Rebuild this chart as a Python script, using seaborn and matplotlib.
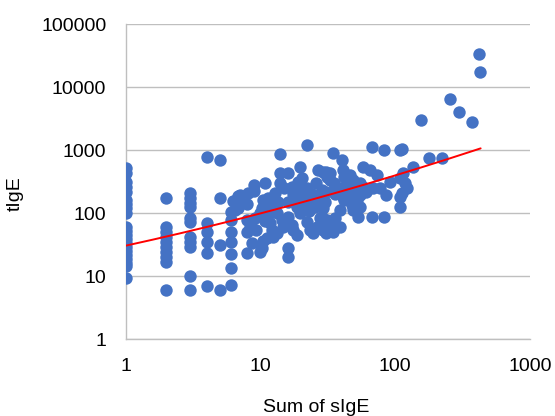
import numpy as np
import pandas as pd
import matplotlib
matplotlib.use("Agg")
import matplotlib.pyplot as plt
import seaborn as sns
from matplotlib.ticker import FixedLocator, FuncFormatter, NullLocator

# tIgE of patients whose sIgE sum is a small whole number
tige_sum1 = [520, 435, 313, 261, 218, 162, 140, 121, 101, 61, 52, 45, 39, 34,
             29, 25, 22, 19, 16.3, 14.6, 9.4]
tige_sum2 = [177, 61, 51, 42, 35, 29, 24, 20, 17, 6.1]
tige_sum3 = [210, 175, 146, 126, 84, 73, 42, 35, 29, 10, 6.1]
tige_sum4 = [789, 70, 51, 35, 23.5, 7.0]
tige_sum5 = [700, 175, 31, 6.1]
tige_sum6 = [106, 78, 51, 35.5, 23, 13.4, 7.3]

# remaining patients: sum of sIgE and tIgE
sige_rest = [6.8, 7.0, 8.1, 6.25, 7.0, 7.9, 6.8, 6.5, 7.9, 8.6, 8.4, 7.9, 9.3, 9.1,
             9.9, 10.3, 10.8, 10.4, 11.4, 8.9, 8.9, 10.8, 8.7, 10.3, 10.5, 7.9, 9.9,
             11.2, 11.8, 12.2, 12.4, 11.2, 13.2, 14.4, 14.7, 13.2, 12.8, 14.0, 16.0,
             14.0, 14.0, 17.1, 19.0, 19.6, 18.6, 19.6, 20.3, 16.0, 16.0, 17.1, 17.4,
             18.6, 18.6, 19.6, 16.0, 16.0, 22, 22, 23.3, 24.5, 26.2, 27.6, 29, 30.8,
             32.8, 24.1, 25.4, 27.6, 26.7, 30.8, 28.6, 30.8, 11.4, 12.8,
             34.5, 40, 67, 83, 108, 112, 135, 58, 65, 73, 29, 33, 31, 41, 42, 46, 49,
             114, 108, 91, 118, 122, 112, 108, 33, 35, 38, 28.6, 52, 58, 55, 61, 68,
             77, 86, 39, 41, 44, 46, 49, 52, 55, 108, 28.6, 30, 29, 39, 36, 39, 33,
             34.5, 48, 49, 55, 53, 67, 83, 31, 28.6, 29, 178, 222, 155, 255, 297,
             371, 418, 425,
             36, 44, 48, 42, 36, 26, 22, 24, 21, 13.5, 15, 17.5, 12, 20.5, 23]
tige_rest = [185, 195, 210, 155, 145, 140, 121, 113, 78, 78, 61, 50, 54, 84,
             101, 121, 75, 162, 175, 281, 226, 302, 34, 28, 36, 23.5, 24.4,
             88, 70, 54, 42, 41, 101, 78, 61, 48, 210, 435, 435,
             302, 871, 262, 313, 234, 181, 543, 363, 151, 88, 65, 54,
             45, 126, 101, 28, 20, 1210, 73, 54, 49, 61, 84, 54, 49,
             70, 151, 128, 162, 486, 451, 210, 218, 146, 107,
             903, 699, 1120, 1010, 1010, 1040, 543, 543, 486, 405, 451, 435, 377, 486, 377, 405, 337,
             435, 363, 313, 302, 252, 210, 181, 337, 302, 252, 234, 281, 262, 302, 218, 252,
             252, 195, 210, 181, 218, 195, 181, 162, 195, 126, 175, 151, 121, 113, 84, 61, 54,
             50, 135, 113, 126, 88, 88, 88, 78, 88, 70, 752, 752, 3010, 6410, 4070,
             2770, 33500, 17200,
             270, 300, 250, 160, 200, 300, 250, 200, 170, 150, 250, 200, 120, 140, 110]

# trend curve: log10(tIgE) as a quadratic in log10(sum of sIgE)
trend_coef = [0.0454, 0.466, 1.487]
trend_span = [1, 430]

x_ticks = [1, 10, 100, 1000]
y_ticks = [1, 10, 100, 1000, 10000, 100000]

groups = [(1, tige_sum1), (2, tige_sum2), (3, tige_sum3),
          (4, tige_sum4), (5, tige_sum5), (6, tige_sum6)]
sige_all = [g for g, vals in groups for _ in vals] + sige_rest
tige_all = [v for _, vals in groups for v in vals] + tige_rest
df = pd.DataFrame({"Sum of sIgE": sige_all, "tIgE": tige_all})

sns.set_style("white")
plt.rcParams["font.family"] = ["Liberation Sans", "DejaVu Sans"]

fig = plt.figure(figsize=(5.55, 4.16), dpi=100)
ax = fig.add_axes([0.2265, 0.1839, 0.7285, 0.7584])

grid_color = "#BFBFBF"
for yt in y_ticks:
    ax.axhline(yt, color=grid_color, lw=1.0, zorder=0)

sns.scatterplot(data=df, x="Sum of sIgE", y="tIgE", ax=ax, s=80,
                color="#4472C4", linewidth=0, alpha=1, zorder=3)

tx = np.logspace(np.log10(trend_span[0]), np.log10(trend_span[1]), 200)
ty = 10 ** np.polyval(trend_coef, np.log10(tx))
ax.plot(tx, ty, color="#FF0000", lw=1.4, zorder=4)

ax.set_xscale("log")
ax.set_yscale("log")
ax.set_xlim(1, 1000)
ax.set_ylim(1, 100000)

fmt = FuncFormatter(lambda v, p: f"{v:.0f}")
ax.xaxis.set_major_locator(FixedLocator(x_ticks))
ax.yaxis.set_major_locator(FixedLocator(y_ticks))
ax.xaxis.set_minor_locator(NullLocator())
ax.yaxis.set_minor_locator(NullLocator())
ax.xaxis.set_major_formatter(fmt)
ax.yaxis.set_major_formatter(fmt)

for side in ["top", "right"]:
    ax.spines[side].set_visible(False)
for side in ["left", "bottom"]:
    ax.spines[side].set_color(grid_color)
    ax.spines[side].set_linewidth(1.0)

ax.tick_params(axis="both", which="major", length=6, width=1.0, color=grid_color,
               labelsize=14, labelcolor="#000000", direction="out")
ax.tick_params(axis="y", pad=8)
ax.tick_params(axis="x", pad=7)

ax.set_xlabel("Sum of sIgE", fontsize=14, color="#000000")
ax.set_ylabel("tIgE", fontsize=14, color="#000000")
ax.xaxis.set_label_coords(0.472, -0.214)
ax.xaxis.label.set_verticalalignment("center")
ax.yaxis.set_label_coords(-0.2726, 0.461)
ax.yaxis.label.set_verticalalignment("center")

fig.savefig("out.png", dpi=100)
